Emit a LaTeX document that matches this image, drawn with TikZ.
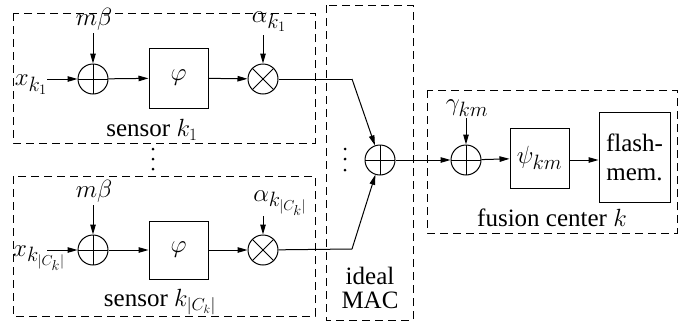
\documentclass[tikz,border=0pt]{standalone}
\usepackage{fontspec}
\setmainfont{Liberation Serif}
\usetikzlibrary{arrows.meta}
\tikzset{
  grp/.style={draw, dashed, dash pattern=on 8pt off 5pt, line width=1pt},
  blk/.style={draw, line width=1pt, inner sep=0pt},
  sumc/.style={draw, circle, line width=1pt, minimum size=30pt, inner sep=0pt,
     path picture={\draw[line width=1pt] (path picture bounding box.north) -- (path picture bounding box.south)
       (path picture bounding box.west) -- (path picture bounding box.east);}},
  mulc/.style={draw, circle, line width=1pt, minimum size=30pt, inner sep=0pt,
     path picture={\draw[line width=1pt] (path picture bounding box.north west) -- (path picture bounding box.south east)
       (path picture bounding box.south west) -- (path picture bounding box.north east);}},
  sig/.style={line width=1pt, -{Triangle[length=10pt,width=5.5pt]}},
  wire/.style={line width=1pt},
  lbl/.style={inner sep=0pt, font=\fontsize{25}{27}\selectfont},
  mlbl/.style={inner sep=0pt, font=\fontsize{30}{32}\selectfont},
  dotm/.style={fill, circle, inner sep=0pt, minimum size=3pt},
}
\begin{document}
\begin{tikzpicture}[x=1pt,y=-1pt]
\useasboundingbox (0,0) rectangle (699,327);
% group boxes
\draw[grp] (13,13) rectangle (315,143);
\draw[grp] (13,176) rectangle (315,316);
\draw[grp] (326,5) rectangle (413,320);
\draw[grp] (427,90) rectangle (677,233);
% top sensor
\node[sumc] (p1) at (93,79) {};
\node[blk, minimum width=59pt, minimum height=60pt] (f1) at (178.5,78) {};
\node[mlbl] at (f1) {$\varphi$};
\node[mulc] (t1) at (263,79) {};
\node[mlbl] (mb1) at (94,19) {$m\beta$};
\node[mlbl] (a1) at (269,22) {$\alpha_{k_1}$};
\node[mlbl] (x1) at (31,85) {$x_{k_1}$};
\coordinate (x1e) at (47,79);
\coordinate (mb1e) at (93,33);
\coordinate (a1e) at (263,35);
\draw[sig] (x1e) -- (p1);
\draw[sig] (mb1e) -- (p1);
\draw[sig] (p1) -- (f1);
\draw[sig] (f1) -- (t1);
\draw[sig] (a1e) -- (t1);
\node[lbl] (s1) at (152,130) {sensor $k_1$};
% bottom sensor
\node[sumc] (p2) at (93,250) {};
\node[blk, minimum width=59pt, minimum height=58pt] (f2) at (178.5,250) {};
\node[mlbl] at (f2) {$\varphi$};
\node[mulc] (t2) at (263,250) {};
\node[mlbl] (mb2) at (94,191) {$m\beta$};
\node[mlbl] (a2) at (280,203) {$\alpha_{k_{|C_k|}}$};
\node[mlbl, anchor=west] (x2) at (13,258) {$x_{k_{|C_k|}}$};
\coordinate (x2e) at (47,250);
\coordinate (mb2e) at (93,205);
\coordinate (a2e) at (263,216);
\draw[sig] (x2e) -- (p2);
\draw[sig] (mb2e) -- (p2);
\draw[sig] (p2) -- (f2);
\draw[sig] (f2) -- (t2);
\draw[sig] (a2e) -- (t2);
\node[lbl] (s2) at (160,302) {sensor $k_{|C_k|}$};
% dots
\node[dotm] (d1) at (153,149) {};
\node[dotm] (d2) at (153,159) {};
\node[dotm] (d3) at (153,169) {};
\node[dotm] (d4) at (345,149) {};
\node[dotm] (d5) at (345,159) {};
\node[dotm] (d6) at (345,170) {};
% MAC
\node[sumc] (mac) at (380,160) {};
\coordinate (k1) at (352,79);
\coordinate (k2) at (352,249);
\draw[wire] (t1) -- (k1);
\draw[sig] (k1) -- (mac);
\draw[wire] (t2) -- (k2);
\draw[sig] (k2) -- (mac);
\node[lbl] (mac1) at (370,276) {ideal};
\node[lbl] (mac2) at (370,300) {MAC};
% fusion center
\node[sumc] (p3) at (466,160) {};
\node[mlbl] (g) at (467,108) {$\gamma_{km}$};
\coordinate (ge) at (466,118);
\node[blk, minimum width=59pt, minimum height=60pt] (psi) at (539.5,158) {};
\node[mlbl] at (psi) {$\psi_{km}$};
\node[blk, minimum width=71pt, minimum height=90pt] (fm) at (634.5,157) {};
\node[lbl, align=center, font=\fontsize{25}{29}\selectfont] at (fm) {flash-\\mem.};
\draw[sig] (mac) -- (p3);
\draw[sig] (ge) -- (p3);
\draw[sig] (p3) -- (psi);
\draw[sig] (psi.east |- p3) -- (fm.west |- p3);
\node[lbl] (fc) at (552,218) {fusion center $k$};
\end{tikzpicture}
\end{document}
